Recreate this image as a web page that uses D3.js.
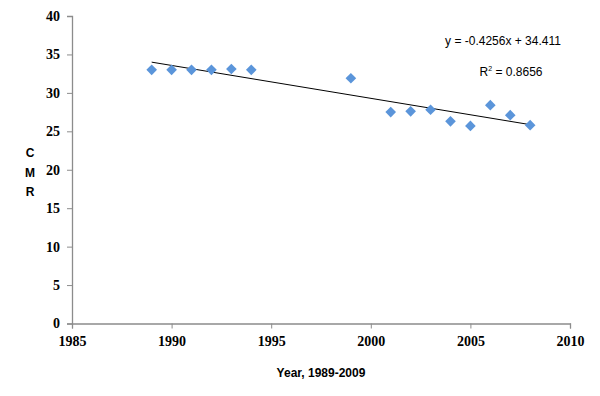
<!DOCTYPE html>
<html>
<head>
<meta charset="utf-8">
<script src="https://cdn.jsdelivr.net/npm/d3@7"></script>
<style>
  body { margin: 0; background: #fff; }
  svg { display: block; }
</style>
</head>
<body>
<div id="chart"></div>
<script>
// CMR by year with linear trendline
const years = [1989, 1990, 1991, 1992, 1993, 1994, 1999, 2001, 2002, 2003, 2004, 2005, 2006, 2007, 2008];
const cmr = [33, 33, 33, 33, 33.1, 33, 31.9, 27.5, 27.6, 27.8, 26.3, 25.7, 28.4, 27.1, 25.8];
const xTicks = [1985, 1990, 1995, 2000, 2005, 2010];
const yTicks = [0, 5, 10, 15, 20, 25, 30, 35, 40];
const equationText = "y = -0.4256x + 34.411";
const r2Value = "0.8656";

const width = 600;
const height = 396;
const margin = { top: 16, right: 30, bottom: 72.5, left: 72 };

const svg = d3.select("#chart")
  .append("svg")
  .attr("width", width)
  .attr("height", height);

const x = d3.scaleLinear().domain([1985, 2010]).range([margin.left, width - margin.right]);
const y = d3.scaleLinear().domain([0, 40]).range([height - margin.bottom, margin.top]);

const axisColor = "#8c8c8c";

const xAxis = svg.append("g")
  .attr("transform", `translate(0,${y(0)})`)
  .call(d3.axisBottom(x).tickValues(xTicks).tickFormat(d3.format("d")).tickSize(5).tickPadding(8));

const yAxis = svg.append("g")
  .attr("transform", `translate(${x(1985)},0)`)
  .call(d3.axisLeft(y).tickValues(yTicks).tickSize(5).tickPadding(7));

[xAxis, yAxis].forEach(g => {
  g.attr("font-family", "Liberation Serif").attr("font-size", 14);
  g.select(".domain").attr("stroke", axisColor).attr("stroke-width", 1.3);
  g.selectAll(".tick line").attr("stroke", axisColor).attr("stroke-width", 1);
  g.selectAll(".tick text")
    .attr("fill", "#000")
    .style("font-family", "'Liberation Serif', serif")
    .style("font-weight", "bold")
    .style("font-size", "14px");
});

// least squares fit for the trendline
const mx = d3.mean(years);
const my = d3.mean(cmr);
let sxy = 0, sxx = 0;
years.forEach((yr, i) => {
  sxy += (yr - mx) * (cmr[i] - my);
  sxx += (yr - mx) * (yr - mx);
});
const slope = sxy / sxx;
const intercept = my - slope * mx;
const x0 = d3.min(years), x1 = d3.max(years);

svg.append("line")
  .attr("x1", x(x0))
  .attr("y1", y(intercept + slope * x0))
  .attr("x2", x(x1))
  .attr("y2", y(intercept + slope * x1))
  .attr("stroke", "#000")
  .attr("stroke-width", 1);

const diamond = d3.symbol().type(d3.symbolDiamond2).size(72);

svg.selectAll(".pt")
  .data(years.map((yr, i) => ({ yr, v: cmr[i] })))
  .enter()
  .append("path")
  .attr("class", "pt")
  .attr("d", diamond)
  .attr("transform", d => `translate(${x(d.yr)},${y(d.v)})`)
  .attr("fill", "#5b95da");

// equation and R squared
svg.append("text")
  .attr("x", 503)
  .attr("y", 45)
  .attr("text-anchor", "middle")
  .style("font-family", "'Liberation Sans', Arial, sans-serif")
  .style("font-size", "12px")
  .text(equationText);

const r2 = svg.append("text")
  .attr("x", 511)
  .attr("y", 76)
  .attr("text-anchor", "middle")
  .style("font-family", "'Liberation Sans', Arial, sans-serif")
  .style("font-size", "12px");
r2.append("tspan").text("R");
r2.append("tspan").style("font-size", "7px").attr("dy", -5).text("2");
r2.append("tspan").attr("dy", 5).text(" = " + r2Value);

// axis titles
svg.append("text")
  .attr("x", x(1997.5))
  .attr("y", 377)
  .attr("text-anchor", "middle")
  .style("font-family", "'Liberation Sans', Arial, sans-serif")
  .style("font-weight", "bold")
  .style("font-size", "12px")
  .text("Year, 1989-2009");

["C", "M", "R"].forEach((ch, i) => {
  svg.append("text")
    .attr("x", 30)
    .attr("y", 157 + i * 19.5)
    .attr("text-anchor", "middle")
    .style("font-family", "'Liberation Sans', Arial, sans-serif")
    .style("font-weight", "bold")
    .style("font-size", "12px")
    .text(ch);
});
</script>
</body>
</html>
